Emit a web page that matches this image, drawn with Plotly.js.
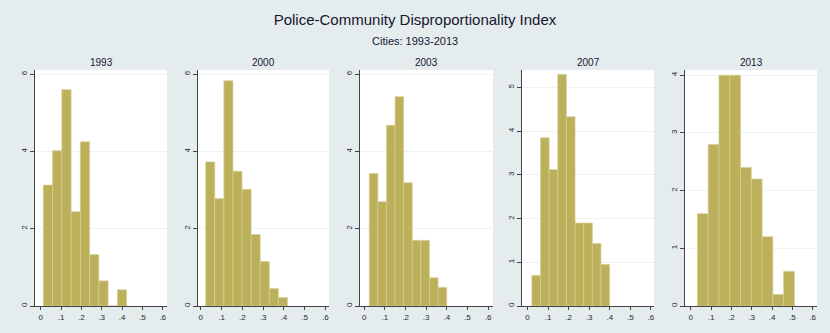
<!DOCTYPE html>
<html>
<head>
<meta charset="utf-8">
<script src="https://cdn.plot.ly/plotly-3.0.1.min.js"></script>
<style>html,body{margin:0;padding:0;background:#e4ecee;}#chart{width:830px;height:333px;}</style>
</head>
<body>
<div id="chart"></div>
<script>
// Data (histogram densities)
const years = ["1993", "2000", "2003", "2007", "2013"];
const binStart = [0.013, 0.024, 0.024, 0.021, 0.033];
const binWidth = [0.0455, 0.0437, 0.0417, 0.042, 0.0530];
const dens1993 = [3.13, 4.02, 5.60, 2.44, 4.25, 1.33, 0.65, 0, 0.42];
const dens2000 = [3.73, 2.78, 5.83, 3.49, 3.02, 1.85, 1.15, 0.45, 0.22];
const dens2003 = [3.43, 2.70, 4.68, 5.42, 3.19, 1.70, 1.70, 0.73, 0.48];
const dens2007 = [0.70, 3.85, 3.12, 5.30, 4.33, 1.90, 1.90, 1.43, 0.95];
const dens2013 = [1.60, 2.80, 4.00, 4.00, 2.40, 2.20, 1.20, 0.20, 0.60];
const densities = [dens1993, dens2000, dens2003, dens2007, dens2013];
const xTickVals = [0, 0.1, 0.2, 0.3, 0.4, 0.5, 0.6];
const xTickText = ["0", ".1", ".2", ".3", ".4", ".5", ".6"];
const yTicks = [[0, 2, 4, 6], [0, 2, 4, 6], [0, 2, 4, 6], [0, 1, 2, 3, 4, 5], [0, 1, 2, 3, 4]];
const yMax = [6.11, 6.11, 6.11, 5.40, 4.09];
const titleText = "Police-Community Disproportionality Index";
const subtitleText = "Cities: 1993-2013";

// Layout geometry (pixels)
const W = 830, H = 333;
const panelPx = [[35, 167], [198, 329], [360, 493], [522, 654], [685, 817]];
const xRanges = [[-0.028, 0.621], [-0.013, 0.617], [-0.021, 0.624], [-0.027, 0.615], [-0.028, 0.621]];
const plotTop = 70, plotBottom = 306;

const font = "Liberation Sans, Arial, sans-serif";
const textCol = "#16162e";
const barCol = "#bcb05a";

const traces = [];
const layout = {
  width: W, height: H,
  margin: {l: 0, r: 0, t: 0, b: 0},
  paper_bgcolor: "#e4ecee",
  plot_bgcolor: "#ffffff",
  showlegend: false,
  bargap: 0,
  font: {family: font, color: textCol},
  title: {text: titleText, x: 0.5, xanchor: "center", y: 1 - 20 / H, yanchor: "middle",
          font: {size: 15, color: textCol, family: font}},
  annotations: [
    {text: subtitleText, x: 0.5, y: 1 - 41 / H, xref: "paper", yref: "paper",
     showarrow: false, xanchor: "center", yanchor: "middle", font: {size: 11, color: textCol}}
  ]
};

years.forEach((yr, i) => {
  const d = densities[i];
  const xs = d.map((_, k) => binStart[i] + binWidth[i] * (k + 0.5));
  const ax = i === 0 ? "" : String(i + 1);
  traces.push({
    type: "bar", x: xs, y: d, width: d.map(() => binWidth[i]),
    xaxis: "x" + ax, yaxis: "y" + ax,
    marker: {color: barCol, line: {color: "#d6cf98", width: 0.7}},
    hoverinfo: "x+y"
  });
  const dom = [panelPx[i][0] / W, panelPx[i][1] / W];
  layout["xaxis" + ax] = {
    domain: dom, range: xRanges[i], anchor: "y" + ax,
    tickvals: xTickVals, ticktext: xTickText, ticks: "outside", ticklen: 3, tickwidth: 1,
    tickcolor: "#444", showline: true, linecolor: "#444", linewidth: 1,
    showgrid: false, zeroline: false, tickfont: {size: 8, color: "#2a2a2a"}, fixedrange: true
  };
  layout["yaxis" + ax] = {
    domain: [1 - plotBottom / H, 1 - plotTop / H], range: [0, yMax[i]], anchor: "x" + ax,
    tickvals: yTicks[i], ticks: "outside", ticklen: 4, tickwidth: 1, tickcolor: "#444",
    showline: true, linecolor: "#444", linewidth: 1, tickangle: -90,
    showgrid: true, gridcolor: "#eef2f3", gridwidth: 1, zeroline: false,
    tickfont: {size: 8, color: "#2a2a2a"}, fixedrange: true
  };
  layout.annotations.push({
    text: yr, x: (dom[0] + dom[1]) / 2, y: 1 - 62 / H, xref: "paper", yref: "paper",
    showarrow: false, xanchor: "center", yanchor: "middle", font: {size: 10, color: textCol}
  });
});

Plotly.newPlot("chart", traces, layout, {displayModeBar: false, staticPlot: true});
</script>
</body>
</html>
